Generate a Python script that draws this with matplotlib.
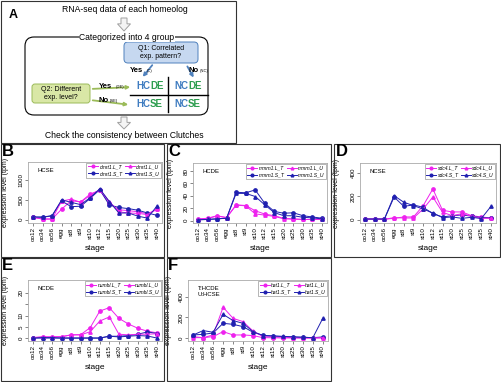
import numpy as np
import matplotlib
matplotlib.use('Agg')
import matplotlib.pyplot as plt
from matplotlib.patches import FancyBboxPatch, Polygon, Rectangle

plt.rcParams['font.family'] = ['Liberation Sans', 'DejaVu Sans']

W, H = 501, 382

stages = ['oo12', 'oo34', 'oo56', 'egg', 'st8', 'st9', 'st10', 'st12',
          'st15', 'st20', 'st25', 'st30', 'st35', 'st40']
suffixes = ['L_T', 'S_T', 'L_U', 'S_U']

# panel B (HCSE)
b_gene = 'dmrt1'
b_LT = [65, 15, 15, 267, 480, 450, 650, 740, 420, 250, 230, 200, 150, 260]
b_ST = [65, 60, 100, 475, 330, 340, 540, 760, 370, 310, 280, 240, 170, 110]
b_LU = [60, 20, 20, 470, 520, 440, 620, 760, 460, 200, 170, 160, 130, 270]
b_SU = [70, 70, 100, 500, 440, 380, 560, 780, 460, 170, 170, 90, 40, 350]

# panel C (HCDE)
c_gene = 'mmrn1'
c_LT = [2.7, 4, 8, 5, 25.6, 24.5, 16, 10.7, 8, 3.7, 3, 2, 2, 2.5]
c_ST = [1.5, 2, 3, 4, 45.9, 45, 49.6, 28, 15, 12, 12.8, 8, 6, 4]
c_LU = [2.5, 3.5, 7.5, 5, 25, 24, 11, 9, 7, 3, 2.5, 2, 2, 2]
c_SU = [1.5, 2, 3, 4, 44, 44, 39, 25.6, 13, 8, 8, 5.5, 4.5, 3]

# panel D (NCSE)
d_gene = 'sdc4'
d_LT = [5, 5, 3, 11, 23, 23, 120, 263, 80, 66, 66, 34, 23, 14]
d_ST = [5, 5, 5, 194, 114, 126, 106, 51, 23, 34, 40, 30, 17, 14]
d_LU = [5, 5, 3, 17, 14, 14, 91, 194, 63, 34, 51, 30, 11, 11]
d_SU = [5, 5, 5, 206, 149, 120, 91, 57, 17, 23, 11, 20, 9, 114]

# panel E (NCDE)
e_gene = 'numbl'
e_LT = [0.3, 0.6, 0.6, 0.7, 1.5, 1.6, 4.7, 12, 13.5, 8.8, 6.3, 4.4, 3.1, 2.4]
e_ST = [0.1, 0.1, 0.1, 0.1, 0.1, 0.1, 0.1, 0.1, 0.9, 0.9, 1.2, 1.8, 2.8, 2.1]
e_LU = [0.3, 0.6, 0.6, 0.7, 1.5, 1.5, 2.9, 7.6, 9.4, 1.8, 1.5, 1.8, 1.8, 2.0]
e_SU = [0.1, 0.3, 0.3, 0.1, 0.1, 0.1, 0.1, 0.1, 0.9, 0.6, 0.9, 1.2, 1.0, 0.1]

# panel F (T: HCDE, U: HCSE)
f_gene = 'hat1'
f_LT = [16, 6, 16, 64, 32, 32, 26, 6, 5, 3, 3, 3, 3, 3]
f_ST = [32, 38, 51, 144, 134, 112, 58, 29, 22, 16, 13, 10, 6, 13]
f_LU = [6, 6, 32, 298, 192, 160, 70, 16, 13, 10, 6, 3, 3, 6]
f_SU = [32, 74, 58, 230, 170, 144, 64, 26, 22, 19, 13, 10, 6, 192]

MAG = '#ee22ee'
BLU = '#2020b0'
styles = [(MAG, 'o'), (BLU, 'o'), (MAG, '^'), (BLU, '^')]

fig = plt.figure(figsize=(W / 100, H / 100), dpi=100)


def px_axes(x0, y0, x1, y1):
    return fig.add_axes([x0 / W, 1 - y1 / H, (x1 - x0) / W, (y1 - y0) / H])


def draw_panel(box, cat, gene, series, ylim, yticks, yticklabels, xlab_y, ylab_x):
    ax = px_axes(*box)
    x = np.arange(len(stages))
    for vals, (col, mk), suf in zip(series, styles, suffixes):
        ax.plot(x, vals, color=col, marker=mk, ms=2.4, lw=0.7,
                label=f'{gene}.{suf}')
    ax.set_xlim(-0.52, 13.52)
    ax.set_ylim(*ylim)
    ax.set_xticks(x, stages, rotation=90, fontsize=4.5)
    ax.set_yticks(yticks, yticklabels, rotation=90, fontsize=4.5, va='center')
    ax.tick_params(length=2, width=0.5, pad=1, color='#555555')
    for sp in ax.spines.values():
        sp.set_color('#aaaaaa')
        sp.set_linewidth(0.6)
    ax.set_xlabel('stage', fontsize=6)
    ax.xaxis.set_label_coords(0.5, xlab_y)
    ax.set_ylabel('expression level (tpm)', fontsize=5)
    # label position given in figure pixels
    ax.yaxis.set_label_coords((ylab_x - box[0]) / (box[2] - box[0]), 0.5)
    ax.text(0.07, 0.9, cat, transform=ax.transAxes, fontsize=4.3,
            va='top', ha='left', linespacing=1.3)
    leg = ax.legend(loc='upper right', ncol=2, handlelength=2.0,
                    handletextpad=0.3, columnspacing=0.4, borderpad=0.3,
                    labelspacing=0.4, borderaxespad=0.15, fancybox=False,
                    framealpha=1, edgecolor='#999999', markerscale=0.8,
                    prop={'size': 3.6, 'style': 'italic'})
    leg.get_frame().set_linewidth(0.5)
    return ax


draw_panel((28, 162, 162, 223), 'HCSE', b_gene, [b_LT, b_ST, b_LU, b_SU],
           (-83, 1458), [0, 500, 1000], ['0', '500', '1000'], -0.36, 9)
draw_panel((193, 163, 327, 223), 'HCDE', c_gene, [c_LT, c_ST, c_LU, c_SU],
           (-3.7, 93), [0, 20, 40, 60, 80], ['0', '20', '40', '60', '80'], -0.36, 174)
draw_panel((360, 163, 496, 223), 'NCSE', d_gene, [d_LT, d_ST, d_LU, d_SU],
           (-29, 486), [0, 200, 400], ['0', '200', '400'], -0.36, 340)
draw_panel((28, 280, 162, 341), 'NCDE', e_gene, [e_LT, e_ST, e_LU, e_SU],
           (-1.2, 25.7), [0, 5, 10, 15, 20], ['0', '5', '10', '', '20'], -0.38, 9)
draw_panel((188, 280, 328, 341), 'T:HCDE\nU:HCSE', f_gene, [f_LT, f_ST, f_LU, f_SU],
           (-26, 560), [0, 200, 400], ['0', '200', '400'], -0.38, 172)

# overlay in pixel coordinates for panel A, borders and letters
ov = fig.add_axes([0, 0, 1, 1])
ov.set_xlim(0, W)
ov.set_ylim(H, 0)
ov.axis('off')

for (x0, y0, x1, y1) in [(0.5, 0.5, 236, 143), (0.5, 143.5, 164, 256.5),
                         (167, 143.5, 331, 256.5), (334, 143.5, 500, 256.5),
                         (0.5, 258, 164, 381), (167, 258, 331, 381)]:
    ov.add_patch(Rectangle((x0, y0), x1 - x0, y1 - y0, fill=False,
                           ec='#333333', lw=0.8))

for letter, (lx, ly), fs in [('A', (9, 15), 9), ('B', (2, 151), 12),
                             ('C', (168, 151), 12), ('D', (336, 151), 12),
                             ('E', (2, 266), 12), ('F', (168, 266), 12)]:
    ov.text(lx, ly, letter, fontsize=fs, fontweight='bold', va='center', ha='left')


def block_arrow(cx, y0, y1):
    yh = y0 + (y1 - y0) * 0.45
    pts = [(cx - 3, y0), (cx + 3, y0), (cx + 3, yh), (cx + 6.5, yh), (cx, y1),
           (cx - 6.5, yh), (cx - 3, yh)]
    ov.add_patch(Polygon(pts, closed=True, fc='#f4f4f4', ec='#a0a0a0', lw=0.7))


ov.text(125, 10, 'RNA-seq data of each homeolog', fontsize=6.2, ha='center', va='center')
block_arrow(124, 18, 31)

ov.add_patch(FancyBboxPatch((25, 37), 183, 78, boxstyle='round,pad=0,rounding_size=9',
                            fc='white', ec='black', lw=0.8))
ov.text(127, 37, 'Categorized into 4 group', fontsize=6.2, ha='center', va='center',
        bbox=dict(fc='white', ec='none', pad=0.5))

ov.add_patch(FancyBboxPatch((124, 42), 74, 21, boxstyle='round,pad=0,rounding_size=4',
                            fc='#c6d8f0', ec='#4f81bd', lw=0.7))
ov.text(161, 52.5, 'Q1: Correlated\nexp. pattern?', fontsize=5, ha='center',
        va='center', linespacing=1.1)

ov.add_patch(FancyBboxPatch((32, 84), 58, 19, boxstyle='round,pad=0,rounding_size=3',
                            fc='#d9e7a6', ec='#9bbb59', lw=0.7))
ov.text(61, 93.5, 'Q2: Different\nexp. level?', fontsize=5, ha='center',
        va='center', linespacing=1.1)

ov.annotate('', xy=(141, 79), xytext=(154, 63),
            arrowprops=dict(arrowstyle='-|>', color='#4f81bd', lw=1.3, mutation_scale=5))
ov.annotate('', xy=(195, 80), xytext=(186, 64),
            arrowprops=dict(arrowstyle='-|>', color='#4f81bd', lw=1.3, mutation_scale=5))
ov.annotate('', xy=(133, 87), xytext=(90, 89),
            arrowprops=dict(arrowstyle='-|>', color='#9bbb59', lw=1.3, mutation_scale=5))
ov.annotate('', xy=(131, 105), xytext=(90, 100),
            arrowprops=dict(arrowstyle='-|>', color='#9bbb59', lw=1.3, mutation_scale=5))

ov.text(130, 70, 'Yes', fontsize=5.5, fontweight='bold', ha='left', va='center')
ov.text(147, 71, '(C)', fontsize=3, ha='left', va='center')
ov.text(189, 70, 'No', fontsize=5.5, fontweight='bold', ha='left', va='center')
ov.text(200, 71, '(NC)', fontsize=3, ha='left', va='center')
ov.text(99, 86, 'Yes', fontsize=5.5, fontweight='bold', ha='left', va='center')
ov.text(116, 87, '(DE)', fontsize=3, ha='left', va='center')
ov.text(99, 100, 'No', fontsize=5.5, fontweight='bold', ha='left', va='center')
ov.text(110, 101, '(SE)', fontsize=3, ha='left', va='center')

ov.plot([168, 168], [77, 112], color='black', lw=1)
ov.plot([130, 208], [95, 95], color='black', lw=1)

BL = '#3f7cc0'
GR = '#2e9e50'
for cx, cy, a, b in [(150, 86, 'HC', 'DE'), (188, 86, 'NC', 'DE'),
                     (150, 104, 'HC', 'SE'), (188, 104, 'NC', 'SE')]:
    ov.text(cx, cy, a, fontsize=7, fontweight='bold', color=BL, ha='right', va='center')
    ov.text(cx, cy, b, fontsize=7, fontweight='bold', color=GR, ha='left', va='center')

block_arrow(124, 117, 129)
ov.text(124, 136, 'Check the consistency between Clutches', fontsize=6.2,
        ha='center', va='center')

fig.savefig('out.png', dpi=100)
